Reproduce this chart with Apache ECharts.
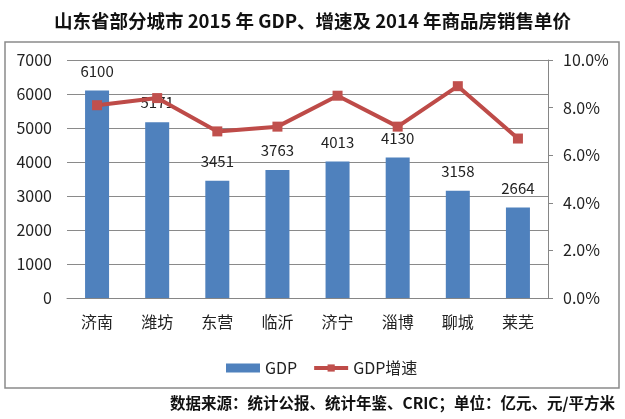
<!DOCTYPE html>
<html>
<head>
<meta charset="utf-8">
<script src="https://cdn.jsdelivr.net/npm/echarts@6/dist/echarts.min.js"></script>
<style>
html,body{margin:0;padding:0;background:#fff;}
#chart{width:625px;height:419px;}
</style>
</head>
<body>
<div id="chart"></div>
<script>
const categories = ['济南','潍坊','东营','临沂','济宁','淄博','聊城','莱芜'];
const gdp = [6100, 5171, 3451, 3763, 4013, 4130, 3158, 2664];
const growth = [8.1, 8.4, 7.0, 7.2, 8.5, 7.2, 8.9, 6.7];
const leftTicks = {min: 0, max: 7000, interval: 1000};
const rightTicks = {min: 0, max: 10, interval: 2};
const titleText = '山东省部分城市 2015 年 GDP、增速及 2014 年商品房销售单价';
const sourceText = '数据来源：统计公报、统计年鉴、CRIC；单位：亿元、元/平方米';

const FONT = '"Noto Sans CJK SC", "Noto Sans", sans-serif';
const chart = echarts.init(document.getElementById('chart'), null, {renderer: 'canvas'});
chart.setOption({
  backgroundColor: '#fff',
  textStyle: {fontFamily: FONT},
  title: {
    text: titleText,
    left: 'center',
    top: 7,
    textStyle: {fontSize: 18.5, fontWeight: 'bold', color: '#111', fontFamily: FONT}
  },
  graphic: [
    {type: 'rect', shape: {x: 5, y: 42, width: 614, height: 346},
     style: {fill: 'none', stroke: '#8a8a8a', lineWidth: 1.5}, z: -1},
    {type: 'text', right: 10, top: 395,
     style: {text: sourceText, font: 'bold 15.5px ' + FONT, fill: '#111'}}
  ],
  legend: {
    left: 221, top: 355,
    itemGap: 15,
    textStyle: {fontSize: 16, color: '#222', fontFamily: FONT},
    data: [
      {name: 'GDP', icon: 'rect', itemStyle: {color: '#4F81BD'}},
      {name: 'GDP增速', itemStyle: {color: '#C0504D'}, lineStyle: {width: 4, color: '#BE4B48'}}
    ],
    itemWidth: 34, itemHeight: 9
  },
  grid: {left: 67, right: 77, top: 60, bottom: 121},
  xAxis: {
    type: 'category',
    data: categories,
    axisLine: {lineStyle: {color: '#868686', width: 1}},
    axisTick: {show: false},
    axisLabel: {fontSize: 16, color: '#222', margin: 16, fontFamily: FONT}
  },
  yAxis: [
    {
      type: 'value', min: leftTicks.min, max: leftTicks.max, interval: leftTicks.interval,
      axisLine: {show: false}, axisTick: {show: false},
      axisLabel: {fontSize: 16, color: '#222', margin: 15, fontFamily: FONT,
                  formatter: v => String(v)},
      splitLine: {lineStyle: {color: '#8a8a8a', width: 1}}
    },
    {
      type: 'value', min: rightTicks.min, max: rightTicks.max, interval: rightTicks.interval,
      position: 'right',
      axisLine: {show: true, lineStyle: {color: '#868686', width: 1}},
      axisTick: {show: true, length: 5, lineStyle: {color: '#868686'}},
      axisLabel: {fontSize: 16, color: '#222', margin: 15, fontFamily: FONT,
                  formatter: v => v.toFixed(1) + '%'},
      splitLine: {show: false}
    }
  ],
  series: [
    {
      name: 'GDP', type: 'bar', data: gdp, yAxisIndex: 0,
      barWidth: 24,
      itemStyle: {color: '#4F81BD'},
      label: {show: true, position: 'top', distance: 12, fontSize: 15, color: '#222', fontFamily: FONT},
      z: 2
    },
    {
      name: 'GDP增速', type: 'line', data: growth, yAxisIndex: 1,
      symbol: 'rect', symbolSize: 10,
      lineStyle: {color: '#BE4B48', width: 4},
      itemStyle: {color: '#C0504D'},
      z: 3
    }
  ]
});
</script>
</body>
</html>
